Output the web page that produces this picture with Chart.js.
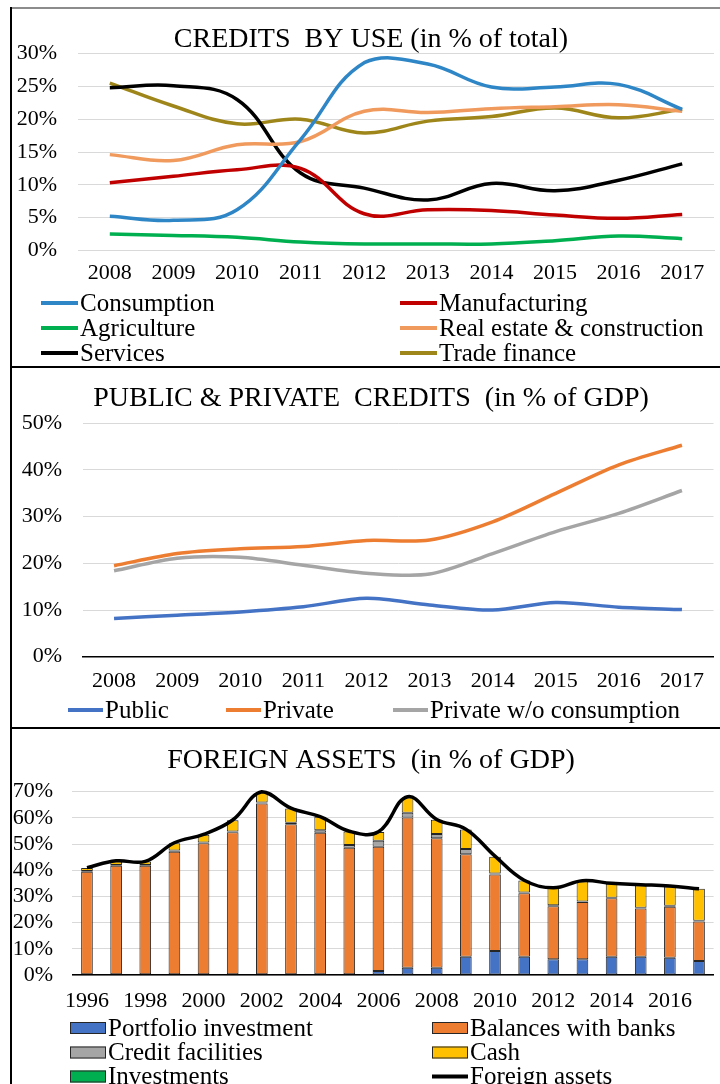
<!DOCTYPE html>
<html>
<head>
<meta charset="utf-8">
<title>Credits and foreign assets</title>
<script src="https://cdn.jsdelivr.net/npm/chart.js@4.4.1/dist/chart.umd.min.js"></script>
<style>
  html, body { margin: 0; padding: 0; background: #fff; overflow: hidden; }
  body { width: 720px; height: 1084px; position: relative; }
  canvas { position: absolute; left: 0; }
  .rule { position: absolute; background: #000; }
</style>
</head>
<body>
<canvas id="useChart" width="720" height="367" style="top:0"></canvas>
<canvas id="gdpChart" width="720" height="358" style="top:369px"></canvas>
<canvas id="assetsChart" width="720" height="360" style="top:730px"></canvas>
<div class="rule" style="left:11px;top:7px;width:709px;height:2px;background:#8c8c8c"></div>
<div class="rule" style="left:10px;top:7px;width:2px;height:1077px"></div>
<div class="rule" style="left:10px;top:366px;width:710px;height:2px"></div>
<div class="rule" style="left:10px;top:727px;width:710px;height:2px"></div>
<script>
// ---- credits by use, % of total ----
const useYears = ['2008', '2009', '2010', '2011', '2012', '2013', '2014', '2015', '2016', '2017'];
const consumption   = [5.2, 4.6, 6.2, 16.9, 28.6, 28.4, 24.9, 24.9, 25.3, 21.5];
const manufacturing = [10.3, 11.3, 12.3, 12.5, 5.6, 6.2, 6.1, 5.4, 4.9, 5.5];
const agriculture   = [2.5, 2.3, 2.0, 1.3, 1.0, 1.0, 1.0, 1.5, 2.2, 1.8];
const realEstate    = [14.6, 13.7, 16.1, 16.6, 21.2, 21.0, 21.6, 21.9, 22.2, 21.2];
const services      = [24.8, 25.1, 23.0, 11.8, 9.5, 7.7, 10.2, 9.1, 10.7, 13.2];
const tradeFinance  = [25.5, 22.0, 19.3, 20.0, 17.9, 19.7, 20.4, 21.7, 20.2, 21.5];
const useTicks = [0, 5, 10, 15, 20, 25, 30];

// ---- public & private credits, % of GDP ----
const gdpYears = ['2008', '2009', '2010', '2011', '2012', '2013', '2014', '2015', '2016', '2017'];
const publicCredit  = [8.2, 8.9, 9.6, 10.7, 12.5, 11.1, 10.0, 11.6, 10.6, 10.1];
const privateCredit = [19.5, 22.1, 23.1, 23.6, 24.9, 25.0, 28.9, 35.0, 41.1, 45.3];
const privateNoCons = [18.4, 21.1, 21.3, 19.6, 17.9, 17.7, 22.1, 26.8, 30.7, 35.6];
const gdpTicks = [0, 10, 20, 30, 40, 50];

// ---- foreign assets, % of GDP ----
const assetYears = ['1996', '1997', '1998', '1999', '2000', '2001', '2002', '2003', '2004', '2005', '2006',
                    '2007', '2008', '2009', '2010', '2011', '2012', '2013', '2014', '2015', '2016', '2017'];
const portfolio   = [0.3, 0.3, 0.3, 0.3, 0.3, 0.3, 0.3, 0.3, 0.3, 0.3, 1.5, 2.8, 2.8, 7.0, 9.2, 7.0, 6.0, 6.0, 7.0, 7.0, 6.6, 5.3];
const balances    = [39.1, 41.4, 41.4, 46.8, 50.0, 54.2, 65.2, 57.3, 54.0, 48.3, 47.5, 57.3, 49.4, 39.1, 29.2, 24.2, 20.3, 21.9, 22.3, 18.4, 19.5, 15.1];
const creditFac   = [0.3, 0.3, 0.3, 0.4, 0.3, 0.3, 0.4, 0.5, 1.0, 1.0, 2.3, 1.9, 1.6, 2.0, 0.4, 0.3, 0.3, 0.2, 0.2, 0.3, 0.3, 0.3];
const cash        = [1.2, 1.4, 1.3, 2.8, 3.0, 4.3, 4.1, 5.5, 5.1, 5.2, 3.3, 5.8, 5.5, 7.5, 6.4, 4.6, 6.6, 7.7, 5.3, 8.6, 7.4, 12.2];
const investments = [0, 0, 0, 0, 0, 0, 0, 0, 0, 0, 0, 0, 0, 0, 0, 0, 0, 0, 0, 0, 0, 0];
const foreignAssets = [41.0, 43.6, 43.4, 50.5, 53.7, 59.2, 70.0, 63.7, 60.5, 54.9, 54.7, 68.1, 59.4, 55.7, 45.4, 36.2, 33.3, 36.0, 35.0, 34.5, 34.0, 32.9];
const assetTicks = [0, 10, 20, 30, 40, 50, 60, 70];

const SERIF = "'Liberation Serif', 'Times New Roman', serif";
const GRID = '#d9d9d9';

// title text drawn at a fixed spot in the panel
const panelTitle = {
  id: 'panelTitle',
  afterDraw(chart, args, o) {
    const ctx = chart.ctx;
    ctx.save();
    ctx.font = `${o.size}px ${SERIF}`;
    ctx.fillStyle = '#000';
    ctx.textAlign = 'center';
    ctx.textBaseline = 'middle';
    ctx.fillText(o.text, o.x, o.y);
    ctx.restore();
  }
};

// legend laid out in fixed slots, one per dataset
const slotLegend = {
  id: 'slotLegend',
  afterDraw(chart, args, o) {
    const ctx = chart.ctx;
    ctx.save();
    ctx.font = `${o.size}px ${SERIF}`;
    ctx.textBaseline = 'middle';
    chart.data.datasets.forEach((ds, i) => {
      const slot = o.slots[i];
      if (!slot) return;
      const [x, y] = slot;
      const isLine = (ds.type || chart.config.type) === 'line';
      if (isLine) {
        ctx.strokeStyle = ds.borderColor;
        ctx.lineWidth = 4;
        ctx.beginPath();
        ctx.moveTo(x, y);
        ctx.lineTo(x + o.markW, y);
        ctx.stroke();
      } else {
        ctx.fillStyle = ds.backgroundColor;
        ctx.fillRect(x, y - 6, o.markW, 12);
        ctx.strokeStyle = '#262626';
        ctx.lineWidth = 1;
        ctx.strokeRect(x + 0.5, y - 5.5, o.markW - 1, 11);
      }
      ctx.fillStyle = '#000';
      ctx.fillText(ds.label, x + o.markW + 2, y + 1);
    });
    ctx.restore();
  }
};

function pct(v) { return v + '%'; }

function lineSet(label, data, color, tension) {
  return { label, data, borderColor: color, backgroundColor: color, borderWidth: 3.5,
           pointRadius: 0, tension, fill: false };
}

function yScale(ticks, width, pad, extra) {
  return Object.assign({
    min: ticks[0], max: ticks[ticks.length - 1],
    afterFit: s => { s.width = width; },
    afterBuildTicks: s => { s.ticks = ticks.map(v => ({ value: v })); },
    grid: { color: GRID, lineWidth: 1, drawTicks: false },
    border: { display: false },
    ticks: { color: '#000', padding: pad, autoSkip: false, font: { family: SERIF, size: 22 }, callback: pct }
  }, extra || {});
}

function xScale(height, pad, borderColor, borderWidth, extra) {
  return Object.assign({
    offset: true,
    afterFit: s => { s.height = height; },
    grid: { display: false, drawTicks: false },
    border: { display: true, color: borderColor, width: borderWidth },
    ticks: { color: '#000', padding: pad, autoSkip: false, maxRotation: 0, minRotation: 0,
             font: { family: SERIF, size: 22 } }
  }, extra || {});
}

const common = {
  responsive: false,
  maintainAspectRatio: false,
  animation: false,
  events: [],
};

// panel 1: credits by use
new Chart(document.getElementById('useChart'), {
  type: 'line',
  data: {
    labels: useYears,
    datasets: [
      lineSet('Consumption', consumption, '#2E86C6', 0.4),
      lineSet('Manufacturing', manufacturing, '#C00000', 0.4),
      lineSet('Agriculture', agriculture, '#00B050', 0.4),
      lineSet('Real estate & construction', realEstate, '#F09A5E', 0.4),
      lineSet('Services', services, '#000000', 0.4),
      lineSet('Trade finance', tradeFinance, '#9F861B', 0.4)
    ]
  },
  options: Object.assign({}, common, {
    layout: { padding: { top: 53.5, right: 6, left: 0, bottom: 0 } },
    plugins: {
      legend: { display: false },
      tooltip: { enabled: false },
      panelTitle: { text: 'CREDITS  BY USE (in % of total)', x: 371, y: 40, size: 28 },
      slotLegend: { size: 25, markW: 37, slots: [[41, 303], [400, 303], [41, 328], [400, 328], [41, 353], [400, 353]] }
    },
    scales: {
      x: xScale(116.5, 9.3, GRID, 1),
      y: yScale(useTicks, 78, 21)
    }
  }),
  plugins: [panelTitle, slotLegend]
});

// panel 2: public & private credits
new Chart(document.getElementById('gdpChart'), {
  type: 'line',
  data: {
    labels: gdpYears,
    datasets: [
      lineSet('Public', publicCredit, '#4472C4', 0.3),
      lineSet('Private', privateCredit, '#ED7D31', 0.3),
      lineSet('Private w/o consumption', privateNoCons, '#A5A5A5', 0.3)
    ]
  },
  options: Object.assign({}, common, {
    layout: { padding: { top: 54.3, right: 6.5, left: 0, bottom: 0 } },
    plugins: {
      legend: { display: false },
      tooltip: { enabled: false },
      panelTitle: { text: 'PUBLIC & PRIVATE  CREDITS  (in % of GDP)', x: 371, y: 30, size: 28 },
      slotLegend: { size: 25, markW: 35, slots: [[68, 341], [226, 341], [393, 341]] }
    },
    scales: {
      x: xScale(70.3, 11.8, '#000', 1.5),
      y: yScale(gdpTicks, 82.5, 20.5)
    }
  }),
  plugins: [panelTitle, slotLegend]
});

// panel 3: foreign assets, stacked bars with total line
function barSet(label, data, color) {
  return { label, data, backgroundColor: color, borderColor: '#262626', borderWidth: 1,
           borderSkipped: false, barPercentage: 0.4, categoryPercentage: 1, stack: 'parts', order: 1 };
}

new Chart(document.getElementById('assetsChart'), {
  type: 'bar',
  data: {
    labels: assetYears,
    datasets: [
      barSet('Portfolio investment', portfolio, '#4472C4'),
      barSet('Balances with banks', balances, '#ED7D31'),
      barSet('Credit facilities', creditFac, '#A5A5A5'),
      barSet('Cash', cash, '#FFC000'),
      Object.assign(barSet('Investments', investments, '#00B050'), { borderWidth: 0 }),
      { type: 'line', label: 'Foreign assets', data: foreignAssets, borderColor: '#000', backgroundColor: '#000',
        borderWidth: 3.5, pointRadius: 0, tension: 0.4, fill: false, stack: 'total', order: 0, clip: false }
    ]
  },
  options: Object.assign({}, common, {
    layout: { padding: { top: 61.7, right: 6.4, left: 0, bottom: 0 } },
    plugins: {
      legend: { display: false },
      tooltip: { enabled: false },
      panelTitle: { text: 'FOREIGN ASSETS  (in % of GDP)', x: 371, y: 31, size: 28 },
      slotLegend: { size: 25, markW: 36, slots: [[70, 298], [432, 298], [70, 322.5], [432, 322.5], [70, 346.5], [432, 346.5]] }
    },
    scales: {
      x: xScale(115, 13.5, '#000', 1.5, {
        stacked: true,
        ticks: { color: '#000', padding: 13.5, autoSkip: false, maxRotation: 0, minRotation: 0,
                 font: { family: SERIF, size: 22 },
                 callback: (v, i) => (i % 2 === 0 ? assetYears[i] : '') }
      }),
      y: yScale(assetTicks, 72.4, 19.4, { stacked: true })
    }
  }),
  plugins: [panelTitle, slotLegend]
});
</script>
</body>
</html>
